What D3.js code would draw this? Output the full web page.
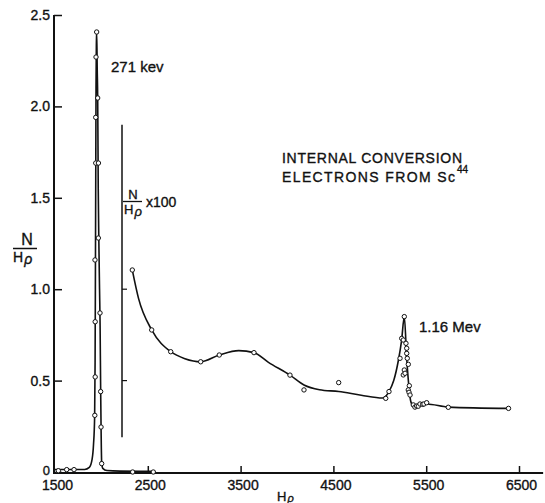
<!DOCTYPE html>
<html>
<head>
<meta charset="utf-8">
<script src="https://cdn.jsdelivr.net/npm/d3@7"></script>
<style>
  body { margin: 0; background: #fff; }
  text { font-family: 'Liberation Sans', Arial, sans-serif; fill: #111; stroke: #111; stroke-width: 0.35px; }
</style>
</head>
<body>
<script>
const xTicks = [1500, 2500, 3500, 4500, 5500, 6500];
const yTicks = [0, 0.5, 1.0, 1.5, 2.0, 2.5];
const yTickLabels = ['0', '0.5', '1.0', '1.5', '2.0', '2.5'];
const xAxisEnd = 6760;

// 271 kev line, N/H rho as measured
const lowPoints = [
  [1536, 0.007], [1626, 0.013], [1705, 0.013],
  [1929, 0.31], [1933, 0.52], [1933, 0.822], [1931, 1.16], [1939, 1.69], [1939, 1.94], [1942, 2.27],
  [1949, 2.407],
  [1960, 2.046], [1968, 1.69], [1967, 1.28], [1985, 0.87], [1992, 0.44], [1996, 0.246], [2003, 0.046],
  [2337, 0.0], [2559, 0.0]
];
const lowCurve = [
  [1500, 0.014], [1820, 0.014], [1870, 0.025], [1900, 0.07], [1915, 0.15], [1927, 0.3], [1932, 0.6],
  [1935, 1.0], [1939, 1.6], [1942, 2.1], [1946, 2.35], [1949, 2.41], [1955, 2.2], [1960, 2.05],
  [1966, 1.55], [1972, 1.28], [1980, 1.0], [1986, 0.8], [1992, 0.45], [1997, 0.22], [2003, 0.05],
  [2015, 0.02], [2060, 0.008], [2200, 0.005], [2580, 0.004]
];

// N/H rho x 100
const highPoints = [
  [2333, 1.105], [2542, 0.777], [2747, 0.658], [3070, 0.603], [3270, 0.64], [3644, 0.653],
  [4032, 0.53], [4183, 0.449], [4557, 0.489], [5064, 0.403], [5099, 0.44],
  [5218, 0.622], [5236, 0.731], [5253, 0.722], [5264, 0.85], [5282, 0.704], [5290, 0.677],
  [5290, 0.649], [5296, 0.622], [5307, 0.589], [5264, 0.558], [5253, 0.531], [5272, 0.54],
  [5318, 0.472], [5307, 0.449], [5315, 0.436], [5326, 0.421],
  [5361, 0.367], [5379, 0.355], [5397, 0.361], [5415, 0.36], [5433, 0.372], [5462, 0.37],
  [5476, 0.372], [5505, 0.379], [5738, 0.354], [6387, 0.348]
];
const highCurve = [
  [2333, 1.105], [2400, 0.95], [2542, 0.777], [2747, 0.658], [2900, 0.62], [3070, 0.603],
  [3270, 0.64], [3480, 0.664], [3644, 0.653], [3800, 0.6], [4032, 0.53], [4183, 0.476],
  [4350, 0.45], [4557, 0.44], [4800, 0.42], [5030, 0.405], [5099, 0.44], [5150, 0.5],
  [5200, 0.61], [5235, 0.72], [5264, 0.85], [5290, 0.62], [5315, 0.46], [5332, 0.39],
  [5355, 0.365], [5400, 0.36], [5505, 0.372], [5738, 0.355], [6387, 0.348]
];

// scale bar for the x100 curve
const insetBarX = 2222;
const insetBarRange = [0.19, 1.9];
const insetBarTicks = [0.5, 1.0];

function draw() {
  const width = 545;
  const height = 503;

  const x = d3.scaleLinear().domain([1500, 6500]).range([55, 519]);
  const y = d3.scaleLinear().domain([0, 2.5]).range([472, 15]);

  const svg = d3.select('body').append('svg')
      .attr('width', width)
      .attr('height', height);

  // axes
  const xAxis = svg.append('g')
      .attr('transform', `translate(0,${y(0) + 1})`)
      .call(d3.axisBottom(x).tickValues(xTicks).tickFormat(d3.format('d'))
        .tickSizeInner(-7).tickSizeOuter(0).tickPadding(7));
  xAxis.select('.domain').remove();
  xAxis.selectAll('line').attr('stroke', '#111').attr('stroke-width', 1.5);
  xAxis.selectAll('text').attr('font-size', 14).attr('font-family', null).attr('dx', 2);
  xAxis.select('.tick line').remove();

  const yAxis = svg.append('g')
      .attr('transform', `translate(${x(1500) - 1},0)`)
      .call(d3.axisLeft(y).tickValues(yTicks).tickFormat((d, i) => yTickLabels[i])
        .tickSizeInner(-8).tickSizeOuter(0).tickPadding(4));
  yAxis.select('.domain').remove();
  yAxis.selectAll('line').attr('stroke', '#111').attr('stroke-width', 1.5);
  yAxis.selectAll('text').attr('font-size', 14).attr('font-family', null);
  yAxis.selectAll('.tick text').filter(d => d === 0).attr('dy', '0.2em').attr('font-size', 13);

  svg.append('line')
      .attr('x1', x(1500) - 1).attr('x2', x(xAxisEnd))
      .attr('y1', y(0) + 1).attr('y2', y(0) + 1)
      .attr('stroke', '#111').attr('stroke-width', 2);
  svg.append('line')
      .attr('x1', x(1500) - 1).attr('x2', x(1500) - 1)
      .attr('y1', y(2.5)).attr('y2', y(0) + 2)
      .attr('stroke', '#111').attr('stroke-width', 2);

  // scale bar for the x100 curve
  svg.append('line')
      .attr('x1', x(insetBarX)).attr('x2', x(insetBarX))
      .attr('y1', y(insetBarRange[1])).attr('y2', y(insetBarRange[0]))
      .attr('stroke', '#111').attr('stroke-width', 1.5);
  svg.append('g').selectAll('line')
    .data(insetBarTicks)
    .join('line')
      .attr('x1', x(insetBarX)).attr('x2', x(insetBarX) + 5)
      .attr('y1', d => y(d)).attr('y2', d => y(d))
      .attr('stroke', '#111').attr('stroke-width', 1.2);

  // curves
  const line = d3.line()
      .x(d => x(d[0]))
      .y(d => y(d[1]))
      .curve(d3.curveMonotoneX);

  svg.append('g')
      .attr('fill', 'none')
      .attr('stroke', '#111')
      .attr('stroke-width', 1.6)
    .selectAll('path')
    .data([lowCurve, highCurve])
    .join('path')
      .attr('d', line);

  svg.append('g')
      .attr('fill', '#fff')
      .attr('stroke', '#111')
      .attr('stroke-width', 1)
    .selectAll('circle')
    .data(lowPoints.concat(highPoints))
    .join('circle')
      .attr('cx', d => x(d[0]))
      .attr('cy', d => y(d[1]))
      .attr('r', 2.2);

  // labels
  svg.append('text')
      .attr('x', 111).attr('y', 72)
      .attr('font-size', 15)
      .text('271  kev');

  svg.append('text')
      .attr('x', 419).attr('y', 332)
      .attr('font-size', 15)
      .text('1.16 Mev');

  svg.append('text')
      .attr('x', 282).attr('y', 163)
      .attr('font-size', 14)
      .attr('textLength', 180).attr('lengthAdjust', 'spacing')
      .text('INTERNAL  CONVERSION');
  svg.append('text')
      .attr('x', 282).attr('y', 182)
      .attr('font-size', 14)
      .attr('textLength', 173).attr('lengthAdjust', 'spacing')
      .text('ELECTRONS  FROM  Sc');
  svg.append('text')
      .attr('x', 457).attr('y', 173)
      .attr('font-size', 10)
      .text('44');

  // N / H rho fraction, y axis
  svg.append('text')
      .attr('x', 27).attr('y', 245)
      .attr('text-anchor', 'middle')
      .attr('font-size', 16)
      .text('N');
  svg.append('line')
      .attr('x1', 13).attr('x2', 37)
      .attr('y1', 248.5).attr('y2', 248.5)
      .attr('stroke', '#111').attr('stroke-width', 1.5);
  const yLab = svg.append('text')
      .attr('x', 13).attr('y', 262)
      .attr('font-size', 14);
  yLab.append('tspan').text('H');
  yLab.append('tspan').attr('dx', 1).attr('dy', 2).attr('font-style', 'italic').text('ρ');

  // N / H rho x 100 fraction
  svg.append('text')
      .attr('x', 133).attr('y', 199)
      .attr('text-anchor', 'middle')
      .attr('font-size', 13)
      .text('N');
  svg.append('line')
      .attr('x1', 123).attr('x2', 142)
      .attr('y1', 201.5).attr('y2', 201.5)
      .attr('stroke', '#111').attr('stroke-width', 1.3);
  const insetLab = svg.append('text')
      .attr('x', 124).attr('y', 214)
      .attr('font-size', 13);
  insetLab.append('tspan').text('H');
  insetLab.append('tspan').attr('dx', 1).attr('dy', 2).attr('font-style', 'italic').text('ρ');
  svg.append('text')
      .attr('x', 146).attr('y', 207)
      .attr('font-size', 14)
      .text('x100');

  // x axis title
  const xLab = svg.append('text')
      .attr('x', 277).attr('y', 501)
      .attr('font-size', 13);
  xLab.append('tspan').text('H');
  xLab.append('tspan').attr('dx', 1).attr('dy', 1).attr('font-style', 'italic').attr('font-size', 11).text('ρ');
}

draw();
</script>
</body>
</html>
